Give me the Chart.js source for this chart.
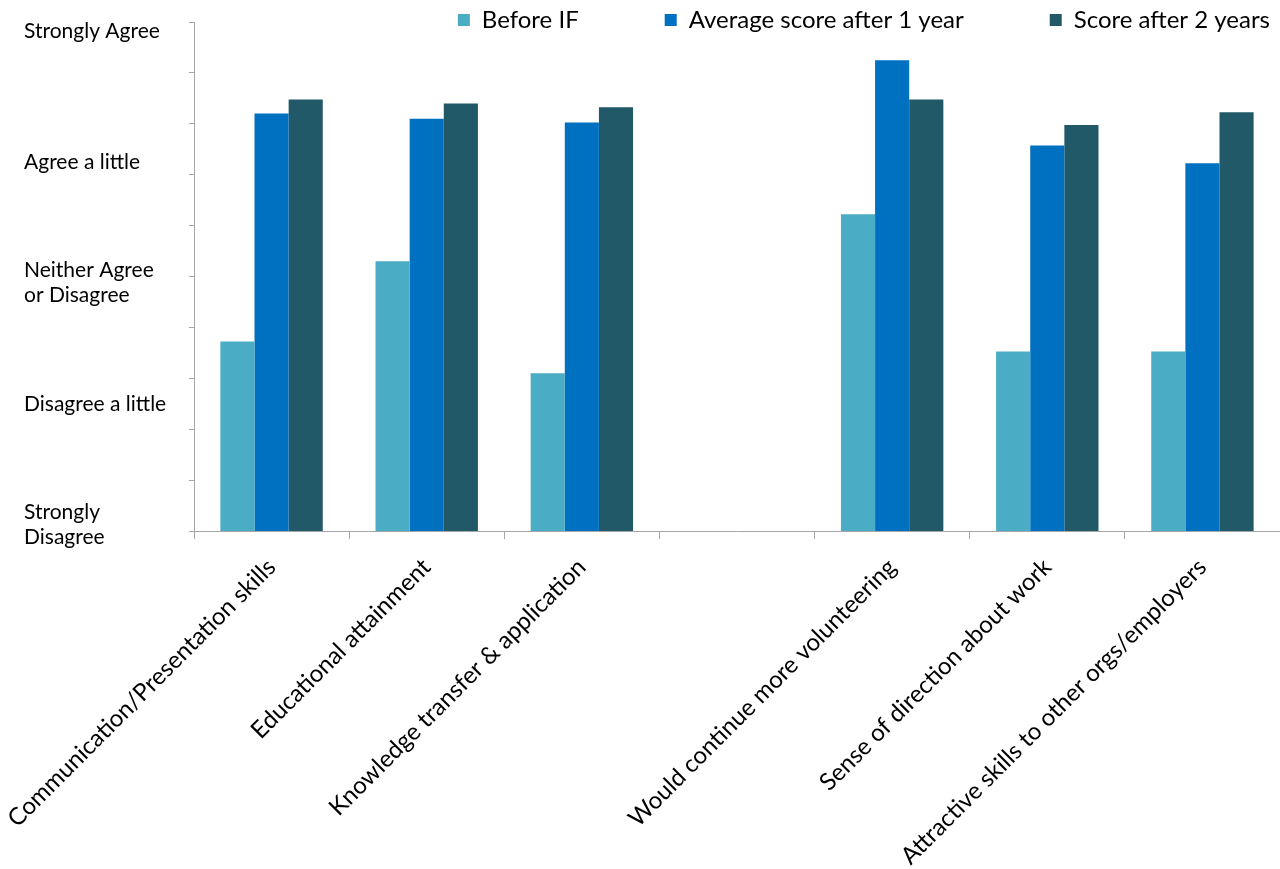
<!DOCTYPE html>
<html>
<head>
<meta charset="utf-8">
<script src="https://cdn.jsdelivr.net/npm/chart.js@4/dist/chart.umd.min.js"></script>
<style>
html, body { margin: 0; padding: 0; background: #fff; }
#wrap { width: 1280px; height: 869px; position: relative; }
</style>
</head>
<body>
<div id="wrap"><canvas id="chart"></canvas></div>
<script>
// Data
const categories = [
    'Communication/Presentation skills',
    'Educational attainment',
    'Knowledge transfer & application',
    '',
    'Would continue more volunteering',
    'Sense of direction about work',
    'Attractive skills to other orgs/employers'
];
const beforeIF = [2.49, 3.12, 2.24, null, 3.49, 2.41, 2.41];
const afterOneYear = [4.28, 4.24, 4.21, null, 4.70, 4.03, 3.89];
const afterTwoYears = [4.39, 4.36, 4.33, null, 4.39, 4.19, 4.29];
const seriesNames = ['Before IF', 'Average score after 1 year', 'Score after 2 years'];

// Agreement scale labels on the left
const levelLabels = [['Strongly', 'Disagree'], 'Disagree a little', ['Neither Agree', 'or Disagree'], 'Agree a little', 'Strongly Agree'];
const levelValues = [1.05, 2.0, 2.95, 3.9, 4.93];

Chart.defaults.font.family = 'Lato, "Open Sans", sans-serif';
Chart.defaults.color = '#000';

const axisGrey = '#a6a6a6';
const overhang = -4; // plot runs slightly past the right edge in the original

// Legend sits inside the top of the plot, like the original
const legendShift = {
    id: 'legendShift',
    afterLayout(chart) {
        const lg = chart.legend;
        const pad = lg.options.labels.padding;
        lg.top = 20 - pad - 12;
        lg.bottom = 45;
        lg.right = 1270 + pad;
    }
};

const ctx = document.getElementById('chart').getContext('2d');
const chart = new Chart(ctx, {
    type: 'bar',
    data: {
        labels: categories,
        datasets: [
            { label: seriesNames[0], data: beforeIF, backgroundColor: '#4bacc6', borderWidth: 0 },
            { label: seriesNames[1], data: afterOneYear, backgroundColor: '#0070c0', borderWidth: 0 },
            { label: seriesNames[2], data: afterTwoYears, backgroundColor: '#215968', borderWidth: 0 }
        ]
    },
    options: {
        responsive: true,
        maintainAspectRatio: false,
        animation: false,
        layout: { padding: { left: 24, right: overhang, top: 0, bottom: 0 } },
        datasets: { bar: { categoryPercentage: 0.66, barPercentage: 1 } },
        plugins: {
            tooltip: { enabled: false },
            legend: {
                position: 'top',
                align: 'end',
                maxHeight: 22,
                labels: { boxWidth: 12, boxHeight: 12, padding: 86, font: { size: 24 }, color: '#000' }
            }
        },
        scales: {
            x: {
                offset: true,
                grid: { display: true, drawOnChartArea: false, offset: true, tickLength: 8, color: axisGrey },
                border: { color: axisGrey },
                ticks: { minRotation: 45, maxRotation: 45, autoSkip: false, font: { size: 24 }, color: '#000', padding: 14 },
                afterFit(s) { s.height = 338; s.paddingLeft = 0; s.paddingRight = overhang; }
            },
            y: {
                min: 1, max: 5,
                ticks: { display: false, stepSize: 0.4 },
                grid: { drawOnChartArea: false, tickLength: 5, color: axisGrey },
                border: { color: axisGrey },
                afterFit(s) { s.width = 24; s.paddingTop = 0; s.paddingBottom = 0; s.paddingRight = overhang; }
            },
            yLabels: {
                position: 'left',
                weight: 1,
                min: 1, max: 5,
                grid: { display: false },
                border: { display: false },
                afterBuildTicks(s) { s.ticks = levelValues.map(v => ({ value: v })); },
                ticks: {
                    autoSkip: false,
                    crossAlign: 'far',
                    color: '#000',
                    font: { size: 21 },
                    callback: (v, i) => levelLabels[i]
                },
                afterFit(s) { s.width = 146; s.paddingTop = 0; s.paddingBottom = 0; s.paddingRight = overhang; }
            }
        }
    },
    plugins: [legendShift]
});
</script>
</body>
</html>
